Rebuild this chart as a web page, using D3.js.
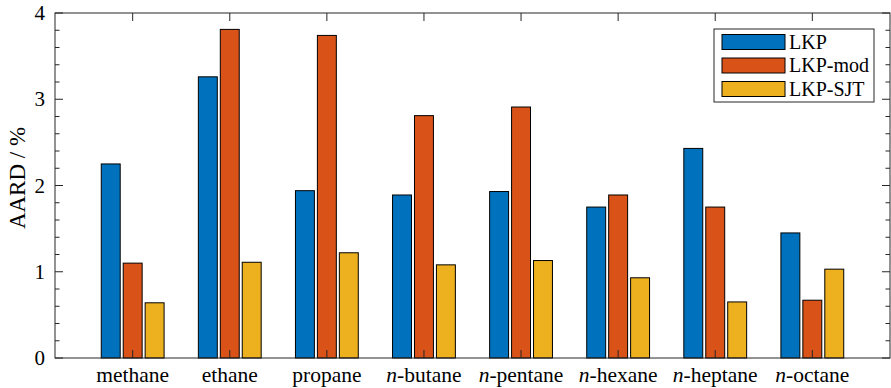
<!DOCTYPE html>
<html><head><meta charset="utf-8">
<script src="https://cdn.jsdelivr.net/npm/d3@7"></script>
<style>body{margin:0;background:#fff;}</style></head>
<body><svg id="c" width="891" height="388"></svg>
<script>
const categories = ["methane","ethane","propane","n-butane","n-pentane","n-hexane","n-heptane","n-octane"];
const seriesNames = ["LKP","LKP-mod","LKP-SJT"];
const LKP     = [2.25, 3.26, 1.94, 1.89, 1.93, 1.75, 2.43, 1.45];
const LKPmod  = [1.10, 3.81, 3.74, 2.81, 2.91, 1.89, 1.75, 0.67];
const LKPSJT  = [0.64, 1.11, 1.22, 1.08, 1.13, 0.93, 0.65, 1.03];
const colors  = ["#0072BD","#D95319","#EDB120"];
const yTicks  = [0,1,2,3,4];

const FONT = '"Liberation Serif"';
const series = [LKP, LKPmod, LKPSJT];
const svg = d3.select("#c");
const L=55, R=890, T=13, B=358;
const x = d3.scaleLinear().domain([0.2, 8.8]).range([L,R]);
const y = d3.scaleLinear().domain([0,4]).range([B,T]);
const barW = 0.195, off = 0.226;

series.forEach((s,si)=>{
  svg.append("g").selectAll("rect").data(s).join("rect")
    .attr("x",(d,i)=>x(i+1+(si-1)*off - barW/2))
    .attr("width",x(barW)-x(0))
    .attr("y",d=>y(d))
    .attr("height",d=>y(0)-y(d))
    .attr("fill",colors[si])
    .attr("stroke","#000").attr("stroke-width",1);
});

const ax = svg.append("g").attr("stroke","#262626").attr("stroke-width",1).attr("fill","none");
ax.append("rect").attr("x",L).attr("y",T).attr("width",R-L).attr("height",B-T);

const minor = d3.range(0,4.0001,0.2);
minor.forEach(v=>{
  const isMaj = Math.abs(v-Math.round(v))<1e-6;
  const len = isMaj?8:4.5;
  ax.append("line").attr("x1",L).attr("x2",L+len).attr("y1",y(v)).attr("y2",y(v));
  ax.append("line").attr("x1",R).attr("x2",R-len).attr("y1",y(v)).attr("y2",y(v));
});
categories.forEach((c,i)=>{
  ax.append("line").attr("x1",x(i+1)).attr("x2",x(i+1)).attr("y1",B).attr("y2",B-8);
  ax.append("line").attr("x1",x(i+1)).attr("x2",x(i+1)).attr("y1",T).attr("y2",T+8);
});

svg.append("g").selectAll("text").data(yTicks).join("text")
  .attr("x",L-10).attr("y",d=>y(d)+7).attr("text-anchor","end")
  .style("font-family",FONT).style("font-size","21px").text(d=>d);

const xl = svg.append("g");
categories.forEach((c,i)=>{
  const t = xl.append("text").attr("x",x(i+1)).attr("y",382).attr("text-anchor","middle")
    .style("font-family",FONT).style("font-size","21.5px");
  if(c.startsWith("n-")){
    t.append("tspan").style("font-style","italic").text("n");
    t.append("tspan").text("-"+c.slice(2));
  } else t.text(c);
});

svg.append("text").attr("transform",`translate(25,178) rotate(-90)`)
  .attr("text-anchor","middle").style("font-family",FONT).style("font-size","23px").text("AARD / %");

const lg = svg.append("g");
lg.append("rect").attr("x",714).attr("y",29).attr("width",160).attr("height",73)
  .attr("fill","#fff").attr("stroke","#262626");
seriesNames.forEach((n,i)=>{
  const cy = 42 + i*23.5;
  lg.append("rect").attr("x",722).attr("y",cy-7.5).attr("width",63).attr("height",15)
    .attr("fill",colors[i]).attr("stroke","#000");
  lg.append("text").attr("x",789).attr("y",cy+6.5).style("font-family",FONT).style("font-size","20px").text(n);
});
</script></body></html>
